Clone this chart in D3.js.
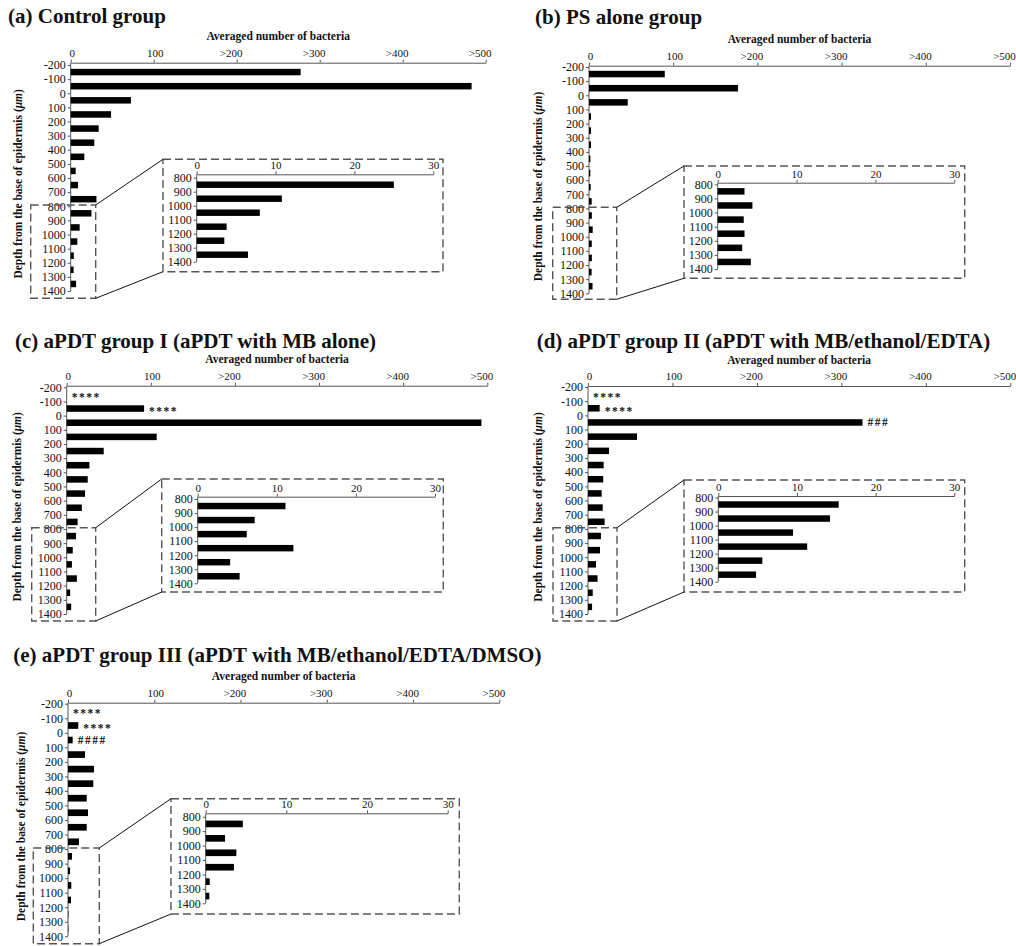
<!DOCTYPE html>
<html>
<head>
<meta charset="utf-8">
<script src="https://cdn.jsdelivr.net/npm/d3@7"></script>
<style>
    body { margin: 0; background: #fff; }
    text { font-family: "Liberation Serif", "Times New Roman", serif; fill: #111; }
    .title { font-size: 21px; font-weight: bold; }
    .xtitle, .ytitle { font-size: 11.5px; font-weight: bold; }
    .axis text { font-family: "Liberation Serif", "Times New Roman", serif; font-size: 12px; }
    .axis .xlab { font-size: 11px; }
    .axis path, .axis line, .yline { stroke: #555; stroke-width: 1; fill: none; }
    .note { font-size: 11.5px; font-weight: bold; letter-spacing: 1.5px; }
    .dash { fill: none; stroke: #555; stroke-width: 1.4; stroke-dasharray: 8,4; }
    .link { stroke: #111; stroke-width: 1; }
</style>
</head>
<body>
<svg id="chart" width="1016" height="946"></svg>
<script>

// depth labels (µm) and the start of each 100 µm band
var depths = [-200, -100, 0, 100, 200, 300, 400, 500, 600, 700, 800, 900, 1000, 1100, 1200, 1300, 1400];
var bands = depths.slice(0, 16);
var insetDepths = [800, 900, 1000, 1100, 1200, 1300, 1400];

var xTicks = [0, 100, 200, 300, 400, 500];
var xTickLabels = ["0", "100", ">200", ">300", ">400", ">500"];
var insetTicks = [0, 10, 20, 30];

// averaged number of bacteria per band (-200..-100, -100..0, ... 1300..1400)
var controlValues = [277, 483, 72.6, 48.6, 33.7, 28.4, 16.4, 6, 8.8, 31, 25, 10.8, 8, 3.8, 3.5, 6.5];
var psValues      = [90, 177, 46, 2.4, 2.4, 2.4, 1.6, 1.6, 2, 3.2, 3.4, 4.4, 3.3, 3.4, 3.1, 4.2];
var groupIValues  = [0, 92, 493, 107, 44, 27, 25, 21.8, 18, 13, 11.1, 7.2, 6.2, 12.1, 4.1, 5.3];
var groupIIValues = [0, 13.8, 325, 58, 24.9, 18.5, 18, 16.2, 17.4, 19.7, 15.3, 14.2, 9.5, 11.3, 5.6, 4.8];
var groupIIIValues = [0, 11.9, 5.4, 19.7, 30.1, 29.3, 21.7, 23.2, 21.7, 12.7, 4.6, 2.4, 3.8, 3.5, 0.5, 0.45];

// significance marks (band start depth, text)
var groupINotes   = [{depth: -200, text: "****"}, {depth: -100, text: "****"}];
var groupIINotes  = [{depth: -200, text: "****"}, {depth: -100, text: "****"}, {depth: 0, text: "###"}];
var groupIIINotes = [{depth: -200, text: "****"}, {depth: -100, text: "****"}, {depth: 0, text: "####"}];

var svg = d3.select("#chart");

// panel layouts in page pixels
var panels = [
    { title: "(a) Control group", values: controlValues, notes: [],
      tx: 8, ty: 23.3, x0: 70.7, x1: 485.7, axisY: 62.7, yTop: 65, yBot: 291, ytx: 22,
      inset: { box: [163, 159.3, 443, 271.7], x0: 196.7, x1: 433.3, axisY: 174.3, yTop: 177.7, yBot: 261.7 },
      small: [30.7, 205, 95.7, 298.3] },
    { title: "(b) PS alone group", values: psValues, notes: [],
      tx: 535, ty: 23.5, x0: 589, x1: 1010, axisY: 65.7, yTop: 67, yBot: 293.3, ytx: 541.5,
      inset: { box: [684, 166, 964.7, 278.3], x0: 717.7, x1: 954.3, axisY: 182.7, yTop: 184.3, yBot: 269 },
      small: [552.7, 207.3, 616.7, 299.3] },
    { title: "(c) aPDT group I (aPDT with MB alone)", values: groupIValues, notes: groupINotes,
      tx: 15, ty: 348.3, x0: 66.7, x1: 487.3, axisY: 385.7, yTop: 387.3, yBot: 614, ytx: 21,
      inset: { box: [161.7, 479, 443.3, 592], x0: 197.7, x1: 435, axisY: 496.7, yTop: 499, yBot: 583.3 },
      small: [31.7, 527.7, 95.7, 621] },
    { title: "(d) aPDT group II (aPDT with MB/ethanol/EDTA)", values: groupIIValues, notes: groupIINotes,
      tx: 536.7, ty: 348.3, x0: 588, x1: 1010.3, axisY: 386, yTop: 387, yBot: 614, ytx: 541.5,
      inset: { box: [684, 480, 964.7, 592], x0: 718.3, x1: 954.3, axisY: 496, yTop: 497.5, yBot: 581.7 },
      small: [553, 527.7, 617, 621] },
    { title: "(e) aPDT group III (aPDT with MB/ethanol/EDTA/DMSO)", values: groupIIIValues, notes: groupIIINotes,
      tx: 13.3, ty: 662, x0: 68, x1: 499.3, axisY: 702.7, yTop: 703.7, yBot: 936.3, ytx: 25,
      inset: { box: [171, 798.7, 459.3, 914], x0: 205.7, x1: 447.7, axisY: 813.3, yTop: 816.7, yBot: 903.3 },
      small: [33.3, 848, 99.3, 943.7] }
];

function drawBars(g, x, y, data) {
    var h = (y(100) - y(0)) * 0.46;
    g.selectAll(".bar")
        .data(data).enter()
        .append("rect")
        .attr("class", "bar")
        .attr("x", x(0))
        .attr("y", function(d){ return y(d.depth + 50) - h / 2; })
        .attr("width", function(d){ return Math.max(0, x(d.value) - x(0)); })
        .attr("height", h)
        .style("fill", "#000");
}

function drawYAxis(g, y, ticks, x0, axisY) {
    var ax = g.append("g")
        .attr("class", "axis")
        .attr("transform", "translate(" + x0 + ",0)")
        .call(d3.axisLeft(y).tickValues(ticks).tickSize(3).tickPadding(2)
            .tickFormat(function(d){ return String(d); }));   // plain hyphen, not unicode minus
    ax.attr("font-family", null).attr("font-size", null);
    ax.select(".domain").remove();
    g.append("line")
        .attr("class", "yline")
        .attr("x1", x0).attr("x2", x0)
        .attr("y1", axisY).attr("y2", y(ticks[ticks.length - 1]));
}

panels.forEach(function(p){
    var g = svg.append("g");

    var x = d3.scaleLinear().domain([0, 500]).range([p.x0, p.x1]);
    var y = d3.scaleLinear().domain([-200, 1400]).range([p.yTop, p.yBot]);

    var data = bands.map(function(d, i){ return { depth: d, value: p.values[i] }; });

    g.append("text").attr("class", "title")
        .attr("x", p.tx).attr("y", p.ty).text(p.title);

    g.append("text").attr("class", "xtitle")
        .attr("x", (p.x0 + p.x1) / 2).attr("y", p.axisY - 22.5)
        .attr("text-anchor", "middle")
        .text("Averaged number of bacteria");

    var yt = g.append("text").attr("class", "ytitle")
        .attr("text-anchor", "middle")
        .attr("transform", "translate(" + p.ytx + "," + ((p.axisY + p.yBot) / 2 + 7) + ") rotate(-90)");
    yt.append("tspan").text("Depth from the base of epidermis (");
    yt.append("tspan").style("font-style", "italic").text("μm");
    yt.append("tspan").text(")");

    // top value axis
    var xa = g.append("g")
        .attr("class", "axis")
        .attr("transform", "translate(0," + p.axisY + ")")
        .call(d3.axisTop(x).tickValues(xTicks).tickSize(3).tickSizeOuter(0).tickPadding(3)
            .tickFormat(function(d, i){ return xTickLabels[i]; }));
    xa.attr("font-family", null).attr("font-size", null);
    xa.selectAll("text")
        .attr("class", "xlab")
        .attr("dx", function(d, i){ return xTickLabels[i].charAt(0) === ">" ? -6 : 1; });

    drawYAxis(g, y, depths, p.x0, p.axisY);
    drawBars(g, x, y, data);

    // significance marks
    g.selectAll(".note")
        .data(p.notes).enter()
        .append("text")
        .attr("class", "note")
        .attr("x", function(d){ return x(p.values[bands.indexOf(d.depth)]) + 5; })
        .attr("y", function(d){ return y(d.depth + 50) + (d.text.charAt(0) === "*" ? 6.5 : 4); })
        .text(function(d){ return d.text; });

    // zoom boxes and connectors
    var s = p.small, b = p.inset.box;
    g.append("rect").attr("class", "dash")
        .attr("x", s[0]).attr("y", s[1]).attr("width", s[2] - s[0]).attr("height", s[3] - s[1]);
    g.append("rect").attr("class", "dash")
        .attr("x", b[0]).attr("y", b[1]).attr("width", b[2] - b[0]).attr("height", b[3] - b[1]);
    g.append("line").attr("class", "link")
        .attr("x1", s[2]).attr("y1", s[1]).attr("x2", b[0]).attr("y2", b[1]);
    g.append("line").attr("class", "link")
        .attr("x1", s[2]).attr("y1", s[3]).attr("x2", b[0]).attr("y2", b[3]);

    // inset chart, 800-1400 µm
    var ix = d3.scaleLinear().domain([0, 30]).range([p.inset.x0, p.inset.x1]);
    var iy = d3.scaleLinear().domain([800, 1400]).range([p.inset.yTop, p.inset.yBot]);
    var ig = g.append("g");

    var ixa = ig.append("g")
        .attr("class", "axis")
        .attr("transform", "translate(0," + p.inset.axisY + ")")
        .call(d3.axisTop(ix).tickValues(insetTicks).tickSize(3).tickSizeOuter(0).tickPadding(2));
    ixa.attr("font-family", null).attr("font-size", null);
    ixa.selectAll("text").attr("class", "xlab");

    drawYAxis(ig, iy, insetDepths, p.inset.x0, p.inset.axisY);
    drawBars(ig, ix, iy, data.filter(function(d){ return d.depth >= 800; }));
});

</script>
</body>
</html>
